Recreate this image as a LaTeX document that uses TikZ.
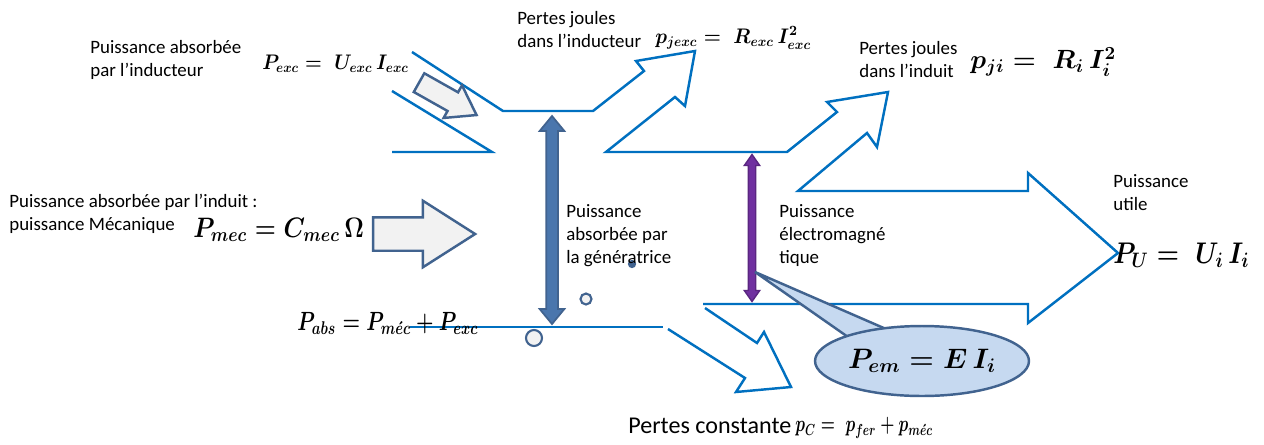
\documentclass[tikz,border=0pt]{standalone}
\usepackage{fix-cm}
\usepackage{fontspec}
\setmainfont{Carlito}
\usepackage{amsmath}
\usetikzlibrary{shapes.arrows,shapes.geometric}
\definecolor{bleuflux}{HTML}{0070C0}
\definecolor{acier}{HTML}{41638F}
\definecolor{grisclair}{HTML}{F2F2F2}
\definecolor{bleuabs}{HTML}{4A76AD}
\definecolor{violetem}{HTML}{7030A0}
\definecolor{bleubulle}{HTML}{C6D9F0}

% formule un peu serree : \fml{facteur}{maths}
\newcommand{\fml}[2]{\scalebox{#1}[1]{$#2$}}

\tikzset{
  ligneflux/.style={draw=bleuflux, line width=1.4pt, line join=miter},
  texte/.style={anchor=north west, inner sep=0pt, align=left,
    font=\fontsize{10.75}{13.1}\selectfont},
  formule/.style={anchor=west, inner sep=0pt},
  grossefleche/.style={single arrow, draw=acier, fill=grisclair, line width=1.4pt,
    inner xsep=0pt},
  doublefleche/.style={double arrow, rotate=90, inner xsep=0pt},
  rond/.style={circle, draw=acier, fill=grisclair, line width=1.2pt, inner sep=0pt},
}

\begin{document}
\begin{tikzpicture}[x=0.02cm, y=-0.02cm]
  \path[use as bounding box, fill=white] (0,0) rectangle (1264,444);

  % Flux de puissance
  \draw[ligneflux] (412,52) -- (503,111) -- (593,111) -- (644,71) -- (636,61)
    -- (695,51) -- (685,106) -- (675,97) -- (606,152) -- (787,152) -- (837,112)
    -- (827,102) -- (888,92) -- (877,147) -- (867,133) -- (798,191) -- (1028,191)
    -- (1028,173) -- (1118,253) -- (1028,323) -- (1028,304) -- (703,304);
  \draw[ligneflux] (392,91) -- (492,152) -- (392,152);
  \draw[ligneflux] (410,327) -- (663,327);
  \draw[ligneflux] (705,308) -- (757,343) -- (764,332) -- (791,387) -- (736,392)
    -- (745,378) -- (668,329);

  % Fleches
  \node[grossefleche, inner ysep=0.31cm, minimum height=2.04cm, minimum width=1.28cm,
    single arrow head extend=0.33cm, single arrow tip angle=65] (meca) at (411,234) {};
  \node[grossefleche, rotate=-29.4, inner ysep=0.19cm, minimum height=1.32cm,
    minimum width=0.7cm, single arrow head extend=0.16cm,
    single arrow tip angle=69] (exc) at (441,95) {};
  \node[doublefleche, draw=acier, fill=bleuabs, line width=1pt, inner ysep=0.1cm,
    minimum height=4.16cm, minimum width=0.46cm, double arrow head extend=0.13cm,
    double arrow tip angle=79] (pabs) at (552,220) {};
  \node[doublefleche, draw=violetem!80!black, fill=violetem, line width=0.8pt,
    inner ysep=0.06cm, minimum height=2.94cm, minimum width=0.28cm,
    double arrow head extend=0.08cm, double arrow tip angle=70] (em) at (752,228) {};

  % Petits ronds
  \node[rond, minimum size=0.32cm] (rond1) at (534,338) {};
  \node[rond, minimum size=0.22cm] (rond2) at (586,299) {};
  \node[rond, fill=acier, minimum size=0.12cm] (rond3) at (632,264) {};

  % Bulle
  \coordinate (emtip) at (755,272);
  \coordinate (bulleA) at (848,337);
  \coordinate (bulleB) at (886,329);
  \filldraw[fill=bleubulle, draw=acier, line width=1.4pt, line join=miter]
    (bulleA) -- (emtip) -- (bulleB);
  \node[ellipse, draw=acier, fill=bleubulle, line width=1.4pt, inner sep=0pt,
    minimum width=4.28cm, minimum height=1.4cm, font=\fontsize{16}{18}\selectfont\boldmath]
    (pem) at (922,361) {$P_{em} = E\,I_i$};

  % Textes
  \node[texte] (t1) at (90,40) {Puissance absorbée\\par l’inducteur};
  \node[texte] (t2) at (517,11) {Pertes joules\\dans l’inducteur};
  \node[texte] (t3) at (859,41) {Pertes joules\\dans l’induit};
  \node[texte] (t4) at (9,194) {Puissance absorbée par l’induit :\\puissance Mécanique};
  \node[texte] (t5) at (566,204) {Puissance\\absorbée par\\la génératrice};
  \node[texte] (t6) at (779,204) {Puissance\\électromagné\\tique};
  \node[texte] (t7) at (1113,174) {Puissance\\utile};
  \node[texte, font=\fontsize{13.7}{16}\selectfont] (t8) at (628,418) {Pertes constante};

  % Formules
  \node[formule, font=\fontsize{12}{14}\selectfont\boldmath] (fexc) at (262,64)
    {\fml{0.91}{P_{exc} = \;U_{exc}\,I_{exc}}};
  \node[formule, font=\fontsize{12}{14}\selectfont\boldmath] (fjexc) at (655,38)
    {\fml{0.93}{p_{jexc} = \;R_{exc}\,I^2_{exc}}};
  \node[formule, font=\fontsize{15}{17}\selectfont\boldmath] (fji) at (970,62)
    {\fml{1}{p_{ji} = \;R_i\,I_i^2}};
  \node[formule, font=\fontsize{16}{18}\selectfont\boldmath] (fmec) at (193,230)
    {\fml{0.86}{P_{mec} = C_{mec}\,\Omega}};
  \node[formule, font=\fontsize{17}{19}\selectfont\boldmath] (fu) at (1113,255)
    {\fml{0.85}{P_U = \;U_i\,I_i}};
  \node[formule, font=\fontsize{15}{17}\selectfont\boldmath] (fabs) at (297,323)
    {\fml{0.76}{P_{abs} = P_{m\acute{e}c} + P_{exc}}};
  \node[formule, font=\fontsize{13}{15}\selectfont\boldmath] (fc) at (795,428)
    {\fml{0.71}{p_C = \;p_{fer} + p_{m\acute{e}c}}};
\end{tikzpicture}
\end{document}
